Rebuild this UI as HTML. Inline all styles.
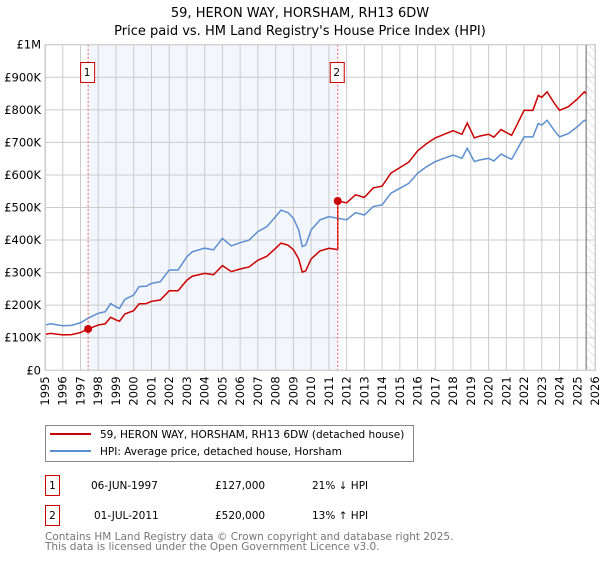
<!DOCTYPE html>
<html><head><meta charset="utf-8"><style>
body{margin:0;background:#fff;width:600px;height:560px;overflow:hidden;font-family:"DejaVu Sans","Liberation Sans",sans-serif;}
svg text{font-family:"DejaVu Sans","Liberation Sans",sans-serif;}
</style></head><body>
<svg id="c" width="600" height="560">
<defs>
<pattern id="hatch" width="6" height="6" patternUnits="userSpaceOnUse" patternTransform="rotate(-45)">
<line x1="0" y1="0" x2="0" y2="6" stroke="#ccc" stroke-width="1"/></pattern>
</defs>
<text x="300" y="17" text-anchor="middle" font-size="13">59, HERON WAY, HORSHAM, RH13 6DW</text>
<text x="300" y="35" text-anchor="middle" font-size="13">Price paid vs. HM Land Registry's House Price Index (HPI)</text>
<g id="plot"></g>
<g>
<rect x="45.5" y="425.5" width="368" height="36" fill="#fff" stroke="#888"/>
<line x1="50" y1="434" x2="91" y2="434" stroke="#cc0000" stroke-width="2"/>
<text x="100" y="438" font-size="10.5">59, HERON WAY, HORSHAM, RH13 6DW (detached house)</text>
<line x1="50" y1="451" x2="91" y2="451" stroke="#5b8fd0" stroke-width="2"/>
<text x="100" y="455" font-size="10.5">HPI: Average price, detached house, Horsham</text>
</g>
<g font-size="10.5">
<rect x="45.5" y="475.5" width="14" height="20" fill="#fff" stroke="#cc0000"/>
<text x="52.5" y="489" text-anchor="middle">1</text>
<text x="91" y="489">06-JUN-1997</text><text x="215" y="489">£127,000</text><text x="312" y="489">21% ↓ HPI</text>
<rect x="45.5" y="505.5" width="14" height="20" fill="#fff" stroke="#cc0000"/>
<text x="52.5" y="519" text-anchor="middle">2</text>
<text x="94" y="519">01-JUL-2011</text><text x="215" y="519">£520,000</text><text x="312" y="519">13% ↑ HPI</text>
</g>
<text x="45" y="540" font-size="10.5" fill="#777">Contains HM Land Registry data © Crown copyright and database right 2025.</text>
<text x="45" y="550" font-size="10.5" fill="#777">This data is licensed under the Open Government Licence v3.0.</text>
</svg>
<script>
const hpiYears=[1995,1995.3,1996,1996.5,1997,1997.43,1998,1998.4,1998.7,1999,1999.2,1999.5,2000,2000.3,2000.7,2001,2001.5,2002,2002.5,2003,2003.3,2004,2004.5,2005,2005.5,2006,2006.5,2007,2007.5,2008,2008.3,2008.7,2009,2009.3,2009.5,2009.7,2010,2010.5,2011,2011.5,2012,2012.5,2013,2013.5,2014,2014.5,2015,2015.5,2016,2016.5,2017,2017.5,2018,2018.5,2018.8,2019.2,2019.5,2020,2020.3,2020.7,2021,2021.3,2021.6,2022,2022.5,2022.8,2023,2023.3,2023.7,2024,2024.5,2025,2025.4,2025.5];
const hpiValues=[139,143,137,138,146,160,175,180,205,195,190,218,231,257,258,267,272,308,308,349,364,375,370,405,382,392,400,426,441,472,492,484,467,431,380,385,431,462,472,467,462,484,477,503,508,544,559,574,605,625,641,651,661,651,682,641,646,651,643,664,656,648,677,717,717,758,753,768,737,717,727,748,768,763];
const saleDates=[1997.43,2011.5];
const salePrices=[127,520];
const saleLabels=["1","2"];
const yTicks=[0,100,200,300,400,500,600,700,800,900,1000];
const yTickLabels=["£0","£100K","£200K","£300K","£400K","£500K","£600K","£700K","£800K","£900K","£1M"];
const xTicks=[1995,1996,1997,1998,1999,2000,2001,2002,2003,2004,2005,2006,2007,2008,2009,2010,2011,2012,2013,2014,2015,2016,2017,2018,2019,2020,2021,2022,2023,2024,2025,2026];
const dataEnd=2025.5;
const X0=45,X1=595,Y0=370.3,Y1=44.7;
const x=v=>X0+(v-1995)/(2026-1995)*(X1-X0);
const y=v=>Y0-v/1000*(Y0-Y1);
const NS="http://www.w3.org/2000/svg";
const g=document.getElementById('plot');
function mk(t,a,p){const e=document.createElementNS(NS,t);for(const k in a)e.setAttribute(k,a[k]);(p||g).appendChild(e);return e;}
let e;
e=mk('rect',{x:x(saleDates[0]),y:Y1,width:x(saleDates[1])-x(saleDates[0]),height:Y0-Y1,fill:'#f3f6fd'});


e=mk('rect',{x:x(dataEnd),y:Y1,width:X1-x(dataEnd),height:Y0-Y1,fill:'url(#hatch)'});


yTicks.forEach((t,i)=>{
 e=mk('line',{x1:X0,x2:X1,y1:y(t),y2:y(t),stroke:'#ccc'});
 
 
 e=mk('text',{x:X0-4,y:y(t)+4,'text-anchor':'end','font-size':'11.5'});e.textContent=yTickLabels[i];
 
 
});
xTicks.forEach(t=>{
 e=mk('line',{x1:x(t),x2:x(t),y1:Y1,y2:Y0,stroke:'#ccc'});
 
 
 e=mk('text',{x:0,y:0,'font-size':'11.5','text-anchor':'end',transform:`translate(${x(t)+4},${Y0+6}) rotate(-90)`});e.textContent=t;
 
 
});
e=mk('line',{x1:x(dataEnd),x2:x(dataEnd),y1:Y1,y2:Y0,stroke:'#666'});


e=mk('polyline',{points:hpiYears.map((d,i)=>x(d)+','+y(hpiValues[i])).join(' '),fill:'none',stroke:'#5b8fd0','stroke-width':1.5});


function hpiAt(d){for(let i=1;i<hpiYears.length;i++){if(d<=hpiYears[i]){const f=(d-hpiYears[i-1])/(hpiYears[i]-hpiYears[i-1]);return hpiValues[i-1]+f*(hpiValues[i]-hpiValues[i-1]);}}return hpiValues[hpiValues.length-1];}
const pts=[];
for(let i=0;i<hpiYears.length;i++){
 const d=hpiYears[i];
 if(d>=saleDates[1]&&(i===0||hpiYears[i-1]<saleDates[1])){
  pts.push([saleDates[1],salePrices[0]/hpiAt(saleDates[0])*hpiAt(saleDates[1])]);
  pts.push([saleDates[1],salePrices[1]]);
 }
 const k=d<saleDates[1]?salePrices[0]/hpiAt(saleDates[0]):salePrices[1]/hpiAt(saleDates[1]);
 pts.push([d,hpiValues[i]*k]);
}
e=mk('polyline',{points:pts.map(p=>x(p[0])+','+y(p[1])).join(' '),fill:'none',stroke:'#cc0000','stroke-width':1.5});


saleDates.forEach((d,i)=>{
 e=mk('line',{x1:x(d),x2:x(d),y1:Y1,y2:Y0,stroke:'#f06060','stroke-dasharray':'2,2'});
 
 
 e=mk('circle',{cx:x(d),cy:y(salePrices[i]),r:4,fill:'#cc0000'});
 
 
 e=mk('rect',{x:x(d)-7.5,y:62.5,width:14,height:20,fill:'#fff',stroke:'#cc0000'});
 
 
 e=mk('text',{x:x(d)-1,y:76,'text-anchor':'middle','font-size':'10.5'});e.textContent=saleLabels[i];
 
 
});
e=mk('rect',{x:X0+0.5,y:Y1,width:X1-X0,height:Y0-Y1,fill:'none',stroke:'#ccc'});


</script>
</body></html>
